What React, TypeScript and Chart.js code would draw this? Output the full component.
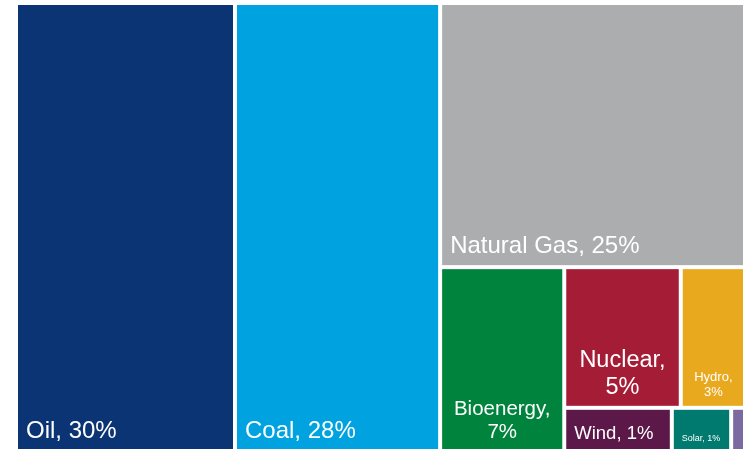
import React, { useEffect, useRef } from "react";
import { Chart, registerables } from "chart.js";

Chart.register(...registerables);

// ---- data ----
const categories = ["Oil", "Coal", "Natural Gas", "Bioenergy", "Nuclear", "Hydro", "Wind", "Solar", "Other"];
const shares = [30, 28.1, 24.65, 7.0, 5.0, 2.8, 1.45, 0.8, 0.2];
const shareLabels = ["30%", "28%", "25%", "7%", "5%", "3%", "1%", "1%", ""];

// ---- styles / layout structure ----
const colors = ["#0a3473", "#00a3e0", "#acadaf", "#00843d", "#a51c36", "#e9a91f", "#5b1849", "#007a6e", "#7b6aa0"];
const labelSizes = [24, 24, 24, 20.5, 23.5, 13, 18.5, 9, 9];
type TreeNode = number | TreeNode[];
const nesting: TreeNode[] = [0, 1, [2, [3, [[4, 5], [6, 7, 8]]]]];

const TOTAL = shares.reduce((a, b) => a + b, 0);
const FONT = '"Liberation Sans", Arial, sans-serif';

function sumNode(n: TreeNode): number {
  return typeof n === "number" ? shares[n] : n.reduce((a: number, c) => a + sumNode(c), 0);
}

type Box = { x0: number; x1: number; y0: number; y1: number };

function layout(node: TreeNode, box: Box, xs: any, ys: any, out: (Box & { i: number })[]) {
  if (typeof node === "number") {
    out.push({ i: node, ...box });
    return;
  }
  const pw = Math.abs(xs.getPixelForValue(box.x1) - xs.getPixelForValue(box.x0));
  const ph = Math.abs(ys.getPixelForValue(box.y1) - ys.getPixelForValue(box.y0));
  const total = sumNode(node);
  let acc = 0;
  for (const child of node) {
    const v = sumNode(child);
    const f0 = acc / total;
    const f1 = (acc + v) / total;
    acc += v;
    if (pw >= ph) {
      const dx = box.x1 - box.x0;
      layout(child, { x0: box.x0 + dx * f0, x1: box.x0 + dx * f1, y0: box.y0, y1: box.y1 }, xs, ys, out);
    } else {
      const dy = box.y1 - box.y0;
      layout(child, { x0: box.x0, x1: box.x1, y0: box.y0 + dy * f0, y1: box.y0 + dy * f1 }, xs, ys, out);
    }
  }
}

const treemapPlugin = {
  id: "treemapCells",
  afterDatasetsDraw(chart: any) {
    const { ctx, scales } = chart;
    const xs = scales.x;
    const ys = scales.y;
    const rects: (Box & { i: number })[] = [];
    layout(nesting, { x0: 0, x1: TOTAL, y0: 0, y1: 100 }, xs, ys, rects);
    const gap = 2;
    ctx.save();
    for (const r of rects) {
      const left = xs.getPixelForValue(r.x0) + gap;
      const right = xs.getPixelForValue(r.x1) - gap;
      const top = ys.getPixelForValue(r.y0) + gap;
      const bottom = ys.getPixelForValue(r.y1) - gap;
      const w = right - left;
      const h = bottom - top;
      ctx.fillStyle = colors[r.i];
      ctx.fillRect(left, top, w, h);

      const fs = labelSizes[r.i];
      ctx.font = `${fs}px ${FONT}`;
      ctx.fillStyle = "#ffffff";
      ctx.textBaseline = "alphabetic";
      const pad = 8;
      const baseY = bottom - (0.2 * fs + 7.5);
      const full = shareLabels[r.i] ? `${categories[r.i]}, ${shareLabels[r.i]}` : categories[r.i];
      const avail = w - 2 * pad;
      if (ctx.measureText(full).width <= avail) {
        ctx.textAlign = "left";
        ctx.fillText(full, left + pad, baseY);
      } else {
        const lines = shareLabels[r.i] ? [`${categories[r.i]},`, shareLabels[r.i]] : [categories[r.i]];
        const widest = Math.max(...lines.map((l) => ctx.measureText(l).width));
        if (widest > w - 4) continue;
        ctx.textAlign = "center";
        const lh = fs * 1.12;
        const cx = (left + right) / 2;
        lines.forEach((l, k) => {
          ctx.fillText(l, cx, baseY - (lines.length - 1 - k) * lh);
        });
      }
    }
    ctx.restore();
  },
};

export default function App() {
  const ref = useRef<HTMLCanvasElement | null>(null);
  useEffect(() => {
    if (!ref.current) return;
    const chart = new Chart(ref.current, {
      type: "scatter",
      data: { datasets: [{ label: "shares", data: [] }] },
      options: {
        animation: false,
        responsive: false,
        maintainAspectRatio: false,
        devicePixelRatio: 1,
        layout: { padding: { left: 16, top: 3, right: 0, bottom: 0 } },
        plugins: { legend: { display: false }, tooltip: { enabled: false } },
        scales: {
          x: { type: "linear", min: 0, max: TOTAL, display: false },
          y: { type: "linear", min: 0, max: 100, reverse: true, display: false },
        },
      },
      plugins: [treemapPlugin],
    });
    return () => chart.destroy();
  }, []);
  return (
    <div
      style={{
        position: "fixed",
        left: 0,
        top: 0,
        width: 743,
        height: 449,
        overflow: "hidden",
        background: "#ffffff",
      }}
    >
      <canvas ref={ref} width={746} height={452} style={{ display: "block", width: 746, height: 452 }} />
    </div>
  );
}
